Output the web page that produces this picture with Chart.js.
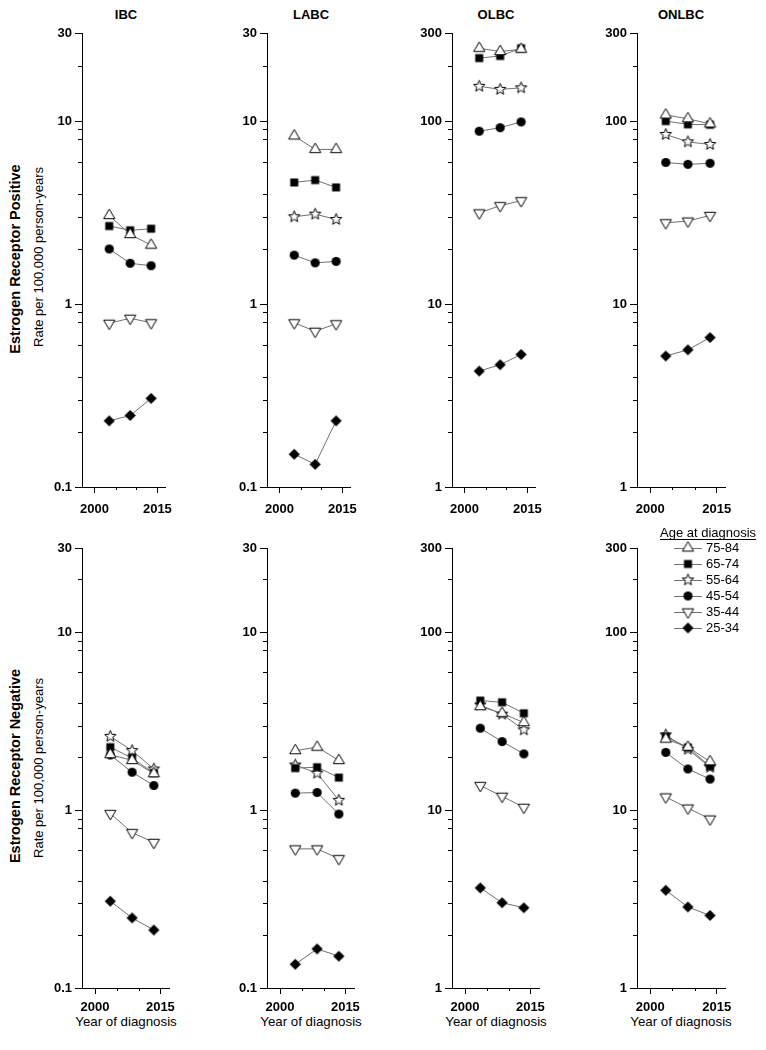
<!DOCTYPE html>
<html>
<head>
<meta charset="utf-8">
<script src="https://cdn.jsdelivr.net/npm/chart.js@4.4.1/dist/chart.umd.min.js"></script>
<style>
  body { margin: 0; background: #fff; width: 766px; height: 1050px; position: relative; overflow: hidden;
         font-family: 'Liberation Sans', Arial, sans-serif; color: #000; }
  canvas { position: absolute; }
  .ttl { position: absolute; font-weight: bold; font-size: 13px; transform: translate(-50%, -50%); white-space: nowrap; }
  .xt { position: absolute; font-size: 13.3px; transform: translate(-50%, -50%); white-space: nowrap; }
  .rot { position: absolute; white-space: nowrap; transform: translate(-50%, -50%) rotate(-90deg); }
  .rot.big { font-weight: bold; font-size: 14.5px; }
  .rot.small { font-size: 13px; }
</style>
</head>
<body>
<div class="ttl" style="left:126px;top:14px">IBC</div>
<div class="ttl" style="left:311px;top:14px">LABC</div>
<div class="ttl" style="left:496px;top:14px">OLBC</div>
<div class="ttl" style="left:681px;top:14px">ONLBC</div>
<div class="rot big" style="left:15px;top:259px">Estrogen Receptor Positive</div>
<div class="rot small" style="left:38px;top:257px">Rate per 100,000 person-years</div>
<div class="rot big" style="left:15px;top:766px">Estrogen Receptor Negative</div>
<div class="rot small" style="left:38px;top:768px">Rate per 100,000 person-years</div>
<div class="xt" style="left:126px;top:1021px">Year of diagnosis</div>
<div class="xt" style="left:311px;top:1021px">Year of diagnosis</div>
<div class="xt" style="left:496px;top:1021px">Year of diagnosis</div>
<div class="xt" style="left:681px;top:1021px">Year of diagnosis</div>

<script>
const years = [2003.5, 2008.5, 2013.5];
const ageGroups = ['75-84', '65-74', '55-64', '45-54', '35-44', '25-34'];
const xLabels = [2000, 2015];
const xMinor = [2005, 2010];
const yLabelsLow = [0.1, 1, 10, 30];
const yLabelsHigh = [1, 10, 100, 300];
const yMinorLow = [0.2, 0.3, 0.4, 0.6, 0.8, 0.9, 2, 3, 4, 6, 8, 9, 20];
const yMinorHigh = [2, 3, 4, 6, 8, 9, 20, 30, 40, 60, 80, 90, 200];

// rows: 75-84, 65-74, 55-64, 45-54, 35-44, 25-34
// Estrogen receptor positive
const ibcPos = [[3.05, 2.4, 2.1], [2.67, 2.53, 2.58], [null, null, null], [2.0, 1.67, 1.62], [0.785, 0.836, 0.79], [0.23, 0.246, 0.305]];
const labcPos = [[8.3, 7.0, 7.0], [4.62, 4.76, 4.34], [3.0, 3.1, 2.9], [1.85, 1.68, 1.71], [0.79, 0.71, 0.78], [0.151, 0.133, 0.23]];
const olbcPos = [[250, 240, 247], [221, 227, 250], [155, 149, 152], [88, 92, 99], [31.5, 34.5, 36.7], [4.3, 4.66, 5.3]];
const onlbcPos = [[108, 103, 96.5], [100, 96, 95.5], [84.5, 77, 74.5], [59.4, 58, 58.8], [27.8, 28.4, 30.5], [5.2, 5.62, 6.56]];
// Estrogen receptor negative
const ibcNeg = [[2.06, 1.91, 1.61], [2.27, 1.97, 1.62], [2.61, 2.17, 1.71], [2.05, 1.64, 1.38], [0.96, 0.75, 0.66], [0.308, 0.248, 0.212]];
const labcNeg = [[2.17, 2.27, 1.91], [1.73, 1.75, 1.53], [1.8, 1.62, 1.14], [1.25, 1.26, 0.953], [0.607, 0.607, 0.535], [0.136, 0.166, 0.151]];
const olbcNeg = [[38.4, 35.2, 31.2], [41.5, 40.6, 35.2], [39.2, 34.8, 28.4], [29.0, 24.4, 20.8], [13.8, 12.0, 10.4], [3.66, 3.02, 2.83]];
const onlbcNeg = [[25.2, 22.7, 18.8], [26.0, 22.6, 17.7], [26.6, 22.1, 17.5], [21.2, 17.1, 15.0], [11.9, 10.3, 8.94], [3.55, 2.86, 2.56]];

const FONT = "'Liberation Sans', Arial, sans-serif";
Chart.defaults.font.family = FONT;
Chart.defaults.font.size = 13;
Chart.defaults.color = '#000';

// marker images, one per age group
function makeMarker(shape) {
  const c = document.createElement('canvas');
  c.width = 15; c.height = 15;
  const g = c.getContext('2d');
  g.translate(7.5, 7.5);
  g.lineWidth = 1;
  g.strokeStyle = '#000';
  g.beginPath();
  if (shape === 'triUp' || shape === 'triDown') {
    const s = shape === 'triUp' ? 1 : -1;
    g.moveTo(0, -6.4 * s); g.lineTo(5.6, 3.2 * s); g.lineTo(-5.6, 3.2 * s); g.closePath();
    g.fillStyle = '#fff'; g.fill(); g.stroke();
  } else if (shape === 'star') {
    for (let i = 0; i < 10; i++) {
      const r = i % 2 ? 2.6 : 6;
      const a = -Math.PI / 2 + i * Math.PI / 5;
      i ? g.lineTo(r * Math.cos(a), r * Math.sin(a)) : g.moveTo(r * Math.cos(a), r * Math.sin(a));
    }
    g.closePath();
    g.fillStyle = '#fff'; g.fill(); g.stroke();
  } else if (shape === 'square') {
    g.rect(-4, -4, 8, 8);
    g.fillStyle = '#000'; g.fill();
  } else if (shape === 'circle') {
    g.arc(0, 0, 4.6, 0, Math.PI * 2);
    g.fillStyle = '#000'; g.fill();
  } else if (shape === 'diamond') {
    g.moveTo(0, -5.6); g.lineTo(5.6, 0); g.lineTo(0, 5.6); g.lineTo(-5.6, 0); g.closePath();
    g.fillStyle = '#000'; g.fill();
  }
  return c;
}
const markers = ['triUp', 'square', 'star', 'circle', 'triDown', 'diamond'].map(makeMarker);

// short minor ticks on both axes
const minorTicks = {
  id: 'minorTicks',
  afterDraw(chart, args, opts) {
    const ctx = chart.ctx, xs = chart.scales.x, ys = chart.scales.y;
    ctx.save();
    ctx.strokeStyle = '#000';
    ctx.lineWidth = 1;
    ctx.beginPath();
    opts.y.forEach(v => {
      const py = Math.round(ys.getPixelForValue(v)) + 0.5;
      ctx.moveTo(ys.right - 4, py); ctx.lineTo(ys.right, py);
    });
    opts.x.forEach(v => {
      const px = Math.round(xs.getPixelForValue(v)) + 0.5;
      ctx.moveTo(px, xs.top); ctx.lineTo(px, xs.top + 3);
    });
    ctx.stroke();
    ctx.restore();
  }
};

// legend drawn inside the last panel
const ageLegend = {
  id: 'ageLegend',
  afterDraw(chart) {
    const ctx = chart.ctx;
    ctx.save();
    ctx.fillStyle = '#000';
    ctx.font = '13px ' + FONT;
    ctx.textBaseline = 'middle';
    ctx.textAlign = 'left';
    const title = 'Age at diagnosis';
    ctx.fillText(title, 83, 15);
    const w = ctx.measureText(title).width;
    ctx.fillRect(83, 21, w, 1);
    ageGroups.forEach((lab, i) => {
      const y = 30 + i * 16;
      ctx.strokeStyle = '#707070';
      ctx.lineWidth = 1;
      ctx.beginPath();
      ctx.moveTo(97, y + 0.5); ctx.lineTo(125, y + 0.5);
      ctx.stroke();
      ctx.drawImage(markers[i], 111 - 7.5, y - 7.5);
      ctx.fillText(lab, 129, y + 0.5);
    });
    ctx.restore();
  }
};

const colLeft = [82, 267, 452, 637];
const rowTop = [33, 548];
const rowBottom = [487, 988];
const panels = [
  [ibcPos, labcPos, olbcPos, onlbcPos],
  [ibcNeg, labcNeg, olbcNeg, onlbcNeg]
];

panels.forEach((rowData, r) => {
  rowData.forEach((series, c) => {
    const low = c < 2;
    const padTop = r === 0 ? 10 : 30;
    const xh = r === 0 ? 38 : 30;
    const yw = 60;
    const plotW = 88.5;
    const canvasLeft = colLeft[c] - yw;
    const width = c === 3 ? 766 - canvasLeft : 160;
    const height = padTop + (rowBottom[r] - rowTop[r]) + xh;
    const cv = document.createElement('canvas');
    cv.width = width; cv.height = height;
    cv.style.left = canvasLeft + 'px';
    cv.style.top = (rowTop[r] - padTop) + 'px';
    cv.style.width = width + 'px'; cv.style.height = height + 'px';
    document.body.appendChild(cv);

    const yLabels = low ? yLabelsLow : yLabelsHigh;
    const plugins = [minorTicks];
    if (r === 1 && c === 3) plugins.push(ageLegend);

    new Chart(cv.getContext('2d'), {
      type: 'line',
      data: {
        datasets: series.map((vals, i) => ({
          label: ageGroups[i],
          data: years.map((yr, j) => ({ x: yr, y: vals[j] })),
          borderColor: '#707070',
          borderWidth: 1,
          pointStyle: markers[i],
          pointRadius: 6,
          tension: 0
        }))
      },
      options: {
        responsive: false,
        animation: false,
        events: [],
        layout: { padding: { top: padTop, right: width - yw - plotW, left: 0, bottom: 0 } },
        plugins: {
          legend: { display: false },
          tooltip: { enabled: false },
          minorTicks: { x: xMinor, y: low ? yMinorLow : yMinorHigh }
        },
        scales: {
          x: {
            type: 'linear',
            min: 1997, max: 2017,
            afterBuildTicks: s => { s.ticks = xLabels.map(v => ({ value: v })); },
            afterFit: s => { s.height = xh; },
            grid: { drawOnChartArea: false, tickLength: 6, tickColor: '#000', tickWidth: 1 },
            border: { color: '#000', width: 1 },
            ticks: {
              color: '#000', padding: r === 0 ? 9 : 6, maxRotation: 0, autoSkip: false,
              font: { family: FONT, size: 13, weight: 'bold' },
              callback: v => String(v)
            }
          },
          y: {
            type: 'logarithmic',
            min: yLabels[0], max: yLabels[yLabels.length - 1],
            afterBuildTicks: s => { s.ticks = yLabels.map(v => ({ value: v })); },
            afterFit: s => { s.width = yw; },
            grid: { drawOnChartArea: false, tickLength: 7, tickColor: '#000', tickWidth: 1 },
            border: { color: '#000', width: 1 },
            ticks: {
              color: '#000', padding: 3, autoSkip: false,
              font: { family: FONT, size: 13, weight: 'bold' },
              callback: v => String(v)
            }
          }
        }
      },
      plugins: plugins
    });
  });
});
</script>
</body>
</html>
